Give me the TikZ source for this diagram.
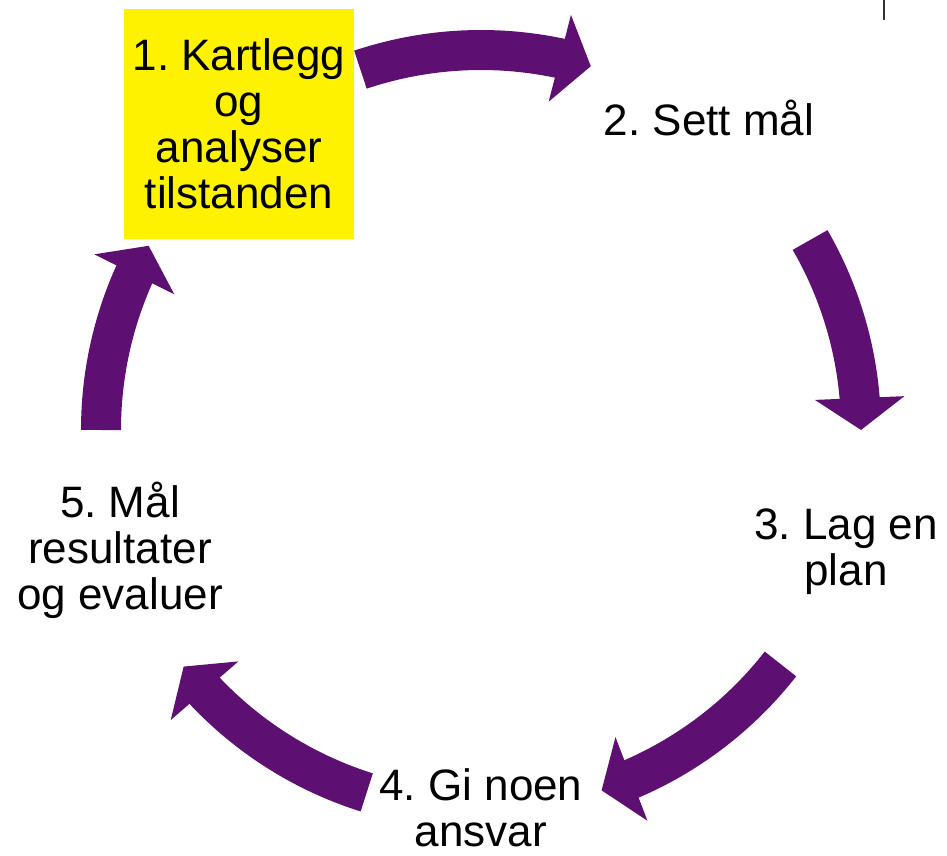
\documentclass[tikz,border=0pt]{standalone}
\usepackage{fontspec}
\setmainfont{Liberation Sans}
\usetikzlibrary{arrows.meta,bending,calc}
\definecolor{cyclepurple}{HTML}{5E0F72}
\frenchspacing
\begin{document}
\begin{tikzpicture}[x=1pt, y=1pt,
    steptext/.style={font=\fontsize{44}{46}\selectfont, align=center, inner sep=0pt},
    cyclearrow/.style={draw=cyclepurple, line width=40pt, -{Triangle[length=32pt, width=88pt]},
        preaction={draw=white, line width=46pt, arrows=-, shorten >=34pt}}]
    \useasboundingbox (0,0) rectangle (947,-856);
    \coordinate (c) at (481,-430);
    % Step 1 (highlighted)
    \node[steptext, fill=yellow, minimum width=230pt, minimum height=230pt] (kartlegg) at (239,-124) {1. Kartlegg\\og\\analyser\\tilstanden};
    % Steps 2-5
    \node[steptext] (maal) at (709,-118) {2. Sett mål};
    \node[steptext] (plan) at (846,-552) {3. Lag en\\plan};
    \node[steptext] (ansvar) at (481,-808) {4. Gi noen\\ansvar};
    \node[steptext] (evaluer) at (120,-550) {5. Mål\\resultater\\og evaluer};
    % Cycle arrows, clockwise (start/end angle)
    \foreach \s/\e in {108.5/73.2, 30/0, -38/-71.5, -107.5/-141.5, 180/151}
        \draw[cyclearrow] ($(c)+(\s:380)$) arc[start angle=\s, end angle=\e, radius=380pt];
    % small mark top right
    \draw[line width=1.5pt, black!80] (884,0) -- (884,-20);
\end{tikzpicture}
\end{document}
